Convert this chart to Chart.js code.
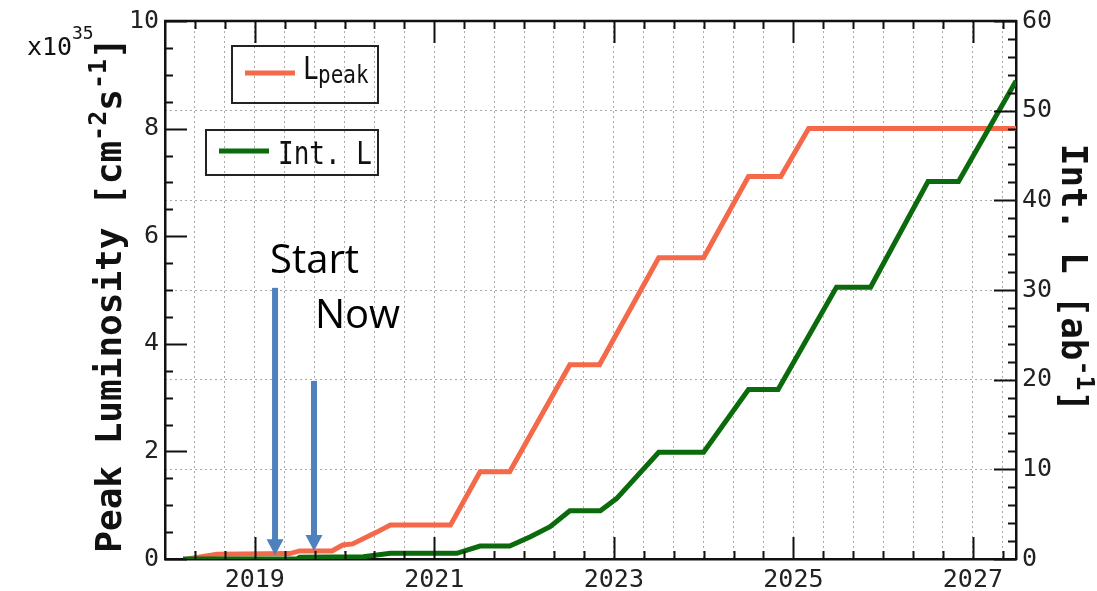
<!DOCTYPE html>
<html>
<head>
<meta charset="utf-8">
<script src="https://cdn.jsdelivr.net/npm/chart.js@4.4.1/dist/chart.umd.min.js"></script>
<style>
  html, body { margin: 0; padding: 0; background: #fff; }
</style>
</head>
<body>
<canvas id="lumiChart" width="1097" height="591"></canvas>
<script>
// peak luminosity (x1e35 cm-2 s-1), left axis
var peakYears = [2018.25, 2018.58, 2019.39, 2019.50, 2019.86, 2019.98, 2020.09, 2020.36, 2020.51, 2021.18,
                 2021.51, 2021.84, 2022.51, 2022.84, 2023.50, 2024.00, 2024.50, 2024.86, 2025.17, 2027.48];
var peakLumi  = [0, 0.09, 0.10, 0.15, 0.15, 0.26, 0.28, 0.50, 0.63, 0.63,
                 1.62, 1.62, 3.61, 3.61, 5.60, 5.60, 7.11, 7.11, 8.0, 8.0];

// integrated luminosity (ab-1), right axis
var intYears = [2018.20, 2019.47, 2019.50, 2020.21, 2020.51, 2021.25, 2021.51, 2021.84, 2022.07, 2022.29, 2022.51,
                2022.85, 2023.03, 2023.50, 2024.00, 2024.50, 2024.83, 2025.48, 2025.86, 2026.50, 2026.84, 2027.48];
var intLumi  = [0, 0, 0.2, 0.26, 0.63, 0.63, 1.44, 1.44, 2.48, 3.6, 5.37,
                5.37, 6.74, 11.9, 11.9, 18.9, 18.9, 30.3, 30.3, 42.1, 42.1, 53.3];

var yearLabels = [2019, 2021, 2023, 2025, 2027];
var leftTicks = [0, 2, 4, 6, 8, 10];
var rightTicks = [0, 10, 20, 30, 40, 50, 60];

// arrows (data units: x in years, y on left axis)
var markers = [
    { text: 'Start', x: 2019.226, top: 5.04, tip: 0.07, labelX: 2019.17, labelY: 5.31 },
    { text: 'Now',   x: 2019.66,  top: 3.31, tip: 0.15, labelX: 2019.67, labelY: 4.30 }
];

var MONO = '"DejaVu Sans Mono", monospace';

function toPoints(xs, ys) {
    return xs.map(function (x, i) { return { x: x, y: ys[i] }; });
}

function isLabelYear(v) {
    return yearLabels.some(function (yr) { return Math.abs(v - yr) < 1e-6; });
}

// text with superscript parts: parts = [[text, isSup], ...]
function drawRich(ctx, parts, size, weight) {
    var x = 0;
    parts.forEach(function (p) {
        var s = p[1] ? Math.round(size * 0.7) : size;
        ctx.font = weight + ' ' + s + 'px ' + MONO;
        ctx.fillText(p[0], x, p[1] ? -size * 0.42 : 0);
        x += ctx.measureText(p[0]).width;
    });
    return x;
}

function richWidth(ctx, parts, size, weight) {
    var w = 0;
    parts.forEach(function (p) {
        var s = p[1] ? Math.round(size * 0.7) : size;
        ctx.font = weight + ' ' + s + 'px ' + MONO;
        w += ctx.measureText(p[0]).width;
    });
    return w;
}

var framePlugin = {
    id: 'frame',
    afterDatasetsDraw: function (chart) {
        var ctx = chart.ctx;
        var xs = chart.scales.x, ys = chart.scales.y;
        ctx.save();
        markers.forEach(function (m) {
            var px = xs.getPixelForValue(m.x);
            var yTop = ys.getPixelForValue(m.top);
            var yTip = ys.getPixelForValue(m.tip);
            var headH = 16, headW = 17, shaftW = 6;
            ctx.fillStyle = '#4f81bd';
            ctx.fillRect(px - shaftW / 2, yTop, shaftW, yTip - headH - yTop + 1);
            ctx.beginPath();
            ctx.moveTo(px - headW / 2, yTip - headH);
            ctx.lineTo(px + headW / 2, yTip - headH);
            ctx.lineTo(px, yTip);
            ctx.closePath();
            ctx.fill();

            ctx.fillStyle = '#000';
            ctx.font = '40px "Open Sans", sans-serif';
            ctx.textBaseline = 'alphabetic';
            ctx.textAlign = 'left';
            ctx.fillText(m.text, xs.getPixelForValue(m.labelX), ys.getPixelForValue(m.labelY));
        });
        ctx.restore();
    },
    afterDraw: function (chart) {
        var ctx = chart.ctx;
        var a = chart.chartArea;
        var xs = chart.scales.x, ys = chart.scales.y, y2 = chart.scales.y2;
        ctx.save();
        ctx.strokeStyle = '#111';

        // top spine
        ctx.lineWidth = 2.5;
        ctx.beginPath();
        ctx.moveTo(a.left - 1, a.top);
        ctx.lineTo(a.right + 1, a.top);
        ctx.stroke();

        // inward ticks
        ctx.lineWidth = 2;
        ctx.beginPath();
        xs.ticks.forEach(function (t) {
            var px = Math.round(xs.getPixelForValue(t.value)) + 0.5;
            var len = isLabelYear(t.value) ? 22 : 8;
            ctx.moveTo(px, a.bottom); ctx.lineTo(px, a.bottom - len);
            ctx.moveTo(px, a.top); ctx.lineTo(px, a.top + len);
        });
        for (var v = 0; v <= 10; v += 0.5) {
            var py = Math.round(ys.getPixelForValue(v)) + 0.5;
            var l = (v % 2 === 0) ? 22 : 8;
            ctx.moveTo(a.left, py); ctx.lineTo(a.left + l, py);
        }
        for (var w = 0; w <= 60; w += 2) {
            var qy = Math.round(y2.getPixelForValue(w)) + 0.5;
            var l2 = (w % 10 === 0) ? 22 : 8;
            ctx.moveTo(a.right, qy); ctx.lineTo(a.right - l2, qy);
        }
        ctx.stroke();

        // legend boxes
        ctx.lineWidth = 2;
        ctx.strokeStyle = '#222';
        var b1x = a.left + 67, b1y = a.top + 25;
        ctx.strokeRect(b1x, b1y, 146, 57);
        ctx.lineWidth = 5;
        ctx.strokeStyle = '#f4694a';
        ctx.beginPath();
        ctx.moveTo(b1x + 13, b1y + 27); ctx.lineTo(b1x + 63, b1y + 27);
        ctx.stroke();
        ctx.fillStyle = '#111';
        ctx.textAlign = 'left';
        ctx.textBaseline = 'alphabetic';
        ctx.save();
        ctx.translate(b1x + 71, b1y + 33);
        ctx.scale(1, 1.25);
        ctx.font = '26px ' + MONO;
        ctx.fillText('L', 0, 0);
        ctx.restore();
        ctx.save();
        ctx.translate(b1x + 86, b1y + 37);
        ctx.scale(1, 1.15);
        ctx.font = '21px ' + MONO;
        ctx.fillText('peak', 0, 0);
        ctx.restore();

        var b2x = a.left + 41, b2y = a.top + 109;
        ctx.lineWidth = 2;
        ctx.strokeStyle = '#222';
        ctx.strokeRect(b2x, b2y, 172, 45);
        ctx.lineWidth = 5;
        ctx.strokeStyle = '#0b6a0b';
        ctx.beginPath();
        ctx.moveTo(b2x + 13, b2y + 21); ctx.lineTo(b2x + 63, b2y + 21);
        ctx.stroke();
        ctx.save();
        ctx.translate(b2x + 72, b2y + 34);
        ctx.scale(1, 1.25);
        ctx.font = '26px ' + MONO;
        ctx.fillText('Int. L', 0, 0);
        ctx.restore();

        // multiplier
        ctx.font = '25px ' + MONO;
        ctx.fillText('x10', 27, 55);
        ctx.font = '18px ' + MONO;
        ctx.fillText('35', 72, 39);

        // left axis title
        var leftParts = [['Peak Luminosity [cm', false], ['-2', true], ['s', false], ['-1', true], [']', false]];
        var lw = richWidth(ctx, leftParts, 36, 'bold');
        ctx.save();
        ctx.translate(121, (a.top + a.bottom) / 2 + 5 + lw / 2);
        ctx.rotate(-Math.PI / 2);
        drawRich(ctx, leftParts, 36, 'bold');
        ctx.restore();

        // right axis title
        var rightParts = [['Int. L [ab', false], ['-1', true], [']', false]];
        var rw = richWidth(ctx, rightParts, 36, 'bold');
        ctx.save();
        ctx.translate(1062, (a.top + a.bottom) / 2 - 12 - rw / 2);
        ctx.rotate(Math.PI / 2);
        drawRich(ctx, rightParts, 36, 'bold');
        ctx.restore();

        ctx.restore();
    }
};

var gridColor = '#a9a9a9';
var tickFont = { family: MONO, size: 25 };

var ctx = document.getElementById('lumiChart').getContext('2d');
new Chart(ctx, {
    type: 'line',
    data: {
        datasets: [{
            label: 'Int. L',
            data: toPoints(intYears, intLumi),
            yAxisID: 'y2',
            borderColor: '#0b6a0b',
            borderWidth: 5,
            pointRadius: 0,
            tension: 0,
            order: 0
        }, {
            label: 'Lpeak',
            data: toPoints(peakYears, peakLumi),
            yAxisID: 'y',
            borderColor: '#f4694a',
            borderWidth: 5,
            pointRadius: 0,
            tension: 0,
            order: 1
        }]
    },
    options: {
        responsive: false,
        animation: false,
        layout: { padding: { top: 19, left: 0, right: 0, bottom: 0 } },
        plugins: {
            legend: { display: false },
            tooltip: { enabled: false }
        },
        scales: {
            x: {
                type: 'linear',
                min: 2018,
                max: 2027.48,
                afterBuildTicks: function (scale) {
                    var t = [];
                    for (var k = 1; 2018 + k / 3 < scale.max; k++) t.push({ value: 2018 + k / 3 });
                    scale.ticks = t;
                },
                afterFit: function (scale) { scale.height = 32; },
                ticks: {
                    autoSkip: false,
                    maxRotation: 0,
                    padding: 6,
                    color: '#222',
                    font: tickFont,
                    callback: function (value) {
                        return isLabelYear(value) ? String(Math.round(value)) : '';
                    }
                },
                grid: { color: gridColor, lineWidth: 1, drawTicks: false },
                border: { display: true, color: '#111', width: 2.5, dash: [2, 3] }
            },
            y: {
                position: 'left',
                min: 0,
                max: 10,
                afterBuildTicks: function (scale) {
                    scale.ticks = leftTicks.map(function (v) { return { value: v }; });
                },
                afterFit: function (scale) { scale.width = 165; },
                ticks: { padding: 6, color: '#222', font: tickFont },
                grid: { display: false, drawTicks: false },
                border: { display: true, color: '#111', width: 2.5 }
            },
            y2: {
                position: 'right',
                min: 0,
                max: 60,
                afterBuildTicks: function (scale) {
                    scale.ticks = rightTicks.map(function (v) { return { value: v }; });
                },
                afterFit: function (scale) { scale.width = 81; },
                ticks: { padding: 6, color: '#222', font: tickFont },
                grid: { color: gridColor, lineWidth: 1, drawTicks: false },
                border: { display: true, color: '#111', width: 2.5, dash: [2, 3] }
            }
        }
    },
    plugins: [framePlugin]
});
</script>
</body>
</html>
